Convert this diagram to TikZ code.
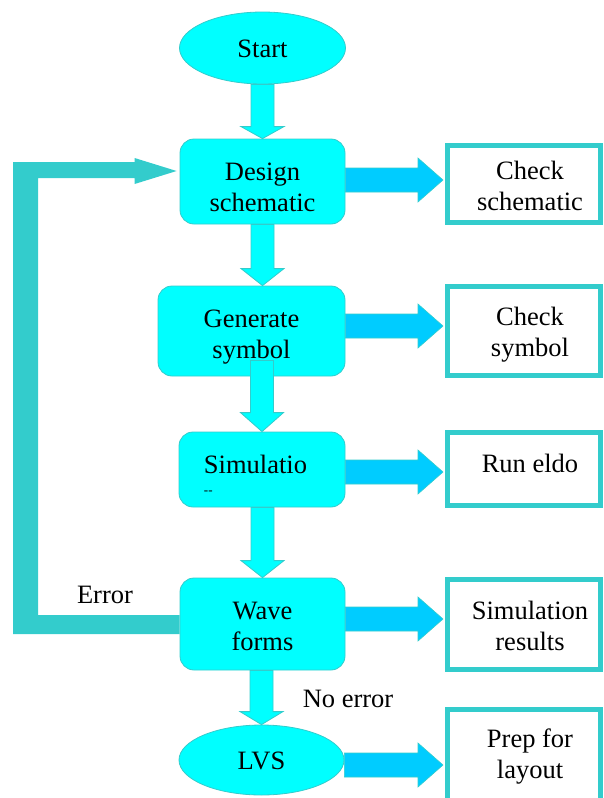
\documentclass[tikz,border=0pt]{standalone}
\usepackage{fontspec}
\setmainfont{Liberation Serif}
\usetikzlibrary{calc,shapes.geometric}
\definecolor{cyanfill}{RGB}{0,255,255}
\definecolor{tealline}{RGB}{51,204,204}
\definecolor{skyarrow}{RGB}{0,204,255}
\newcommand\boxtext[2]{\raisebox{#1}[\height][\depth]{\begin{tabular}{@{}c@{}}#2\end{tabular}}}
\newcommand\dblock[3]{\filldraw[darr] let \p1=(#1), \p2=(#2) in
  (\x2-11.5pt,\y1) -- (\x2-11.5pt,\y2+#3) -- (\x2-21.5pt,\y2+#3) -- (\x2,\y2) --
  (\x2+21.5pt,\y2+#3) -- (\x2+11.5pt,\y2+#3) -- (\x2+11.5pt,\y1) -- cycle;}
\newcommand\rblock[3]{\filldraw[rarr] let \p1=(#1), \p2=(#2), \p3=($(#1)+(0,#3)$) in
  (\x1,\y3+12pt) -- (\x2-27pt,\y3+12pt) -- (\x2-27pt,\y3+22pt) -- (\x2-2pt,\y3) --
  (\x2-27pt,\y3-22pt) -- (\x2-27pt,\y3-12pt) -- (\x1,\y3-12pt) -- cycle;}
\tikzset{
  txtfont/.style={font=\fontsize{26.5}{31}\selectfont},
  mainbox/.style={txtfont, draw=tealline, line width=0.8pt, fill=cyanfill,
    rounded corners=14pt, inner sep=0pt},
  oval/.style={txtfont, ellipse, draw=tealline, line width=0.8pt, fill=cyanfill, inner sep=0pt},
  outbox/.style={txtfont, draw=tealline, line width=5pt, fill=white, inner sep=0pt},
  darr/.style={fill=cyanfill, draw=tealline, line width=0.8pt},
  rarr/.style={fill=skyarrow, draw=tealline, line width=0.6pt},
  fb/.style={fill=tealline},
  lbl/.style={txtfont, inner sep=0pt, anchor=base}
}
\begin{document}
\begin{tikzpicture}[x=1pt,y=-1pt]
\useasboundingbox (0,0) rectangle (603,798);
\clip (0,0) rectangle (603,798);
% main flow
\node[oval, minimum width=166pt, minimum height=72pt] (start) at (262.5,48) {\boxtext{-2.8pt}{Start}};
\node[mainbox, minimum width=165pt, minimum height=85pt] (design) at (262.5,181.5) {\boxtext{-7.8pt}{Design\\schematic}};
\node[mainbox, minimum width=187pt, minimum height=90pt] (gen) at (251.5,331) {\boxtext{-5.3pt}{Generate\\symbol}};
\node[mainbox, minimum width=166pt, minimum height=75pt] (simul) at (262,469.5)
  {\raisebox{2.7pt}[\height][\depth]{\begin{tabular}{@{}l@{}}\makebox[0pt][l]{\raisebox{-21.5pt}[0pt][0pt]{\fontsize{13}{13}\selectfont -{}-}}Simulatio\end{tabular}}\hspace*{13pt}};
\node[mainbox, minimum width=165pt, minimum height=92pt] (wave) at (262.5,624) {\boxtext{-4.3pt}{Wave\\forms}};
\node[oval, minimum width=165pt, minimum height=70pt] (lvs) at (261.5,760) {\boxtext{-2.8pt}{LVS}};
% output boxes
\node[outbox, minimum width=153pt, minimum height=77pt] (chks) at (524,184) {\hspace*{12pt}\boxtext{-4.3pt}{Check\\schematic}};
\node[outbox, minimum width=153pt, minimum height=89pt] (chksym) at (524,331) {\hspace*{12pt}\boxtext{-3.3pt}{Check\\symbol}};
\node[outbox, minimum width=153pt, minimum height=73pt] (eldo) at (524,469) {\hspace*{12pt}\boxtext{3.2pt}{Run eldo}};
\node[outbox, minimum width=153pt, minimum height=90pt] (simres) at (524,624.5) {\hspace*{12pt}\boxtext{-3.8pt}{Simulation\\results}};
\node[outbox, minimum width=153pt, minimum height=108pt] (prep) at (524,763.5) {\hspace*{12pt}\boxtext{7.2pt}{Prep for\\layout}};
% down arrows
\dblock{start.south}{design.north}{12pt}
\dblock{design.south}{design.south |- gen.north}{17pt}
\dblock{$(design.south |- gen.south)+(0,-16)$}{simul.north}{19pt}
\dblock{simul.south}{wave.north}{17pt}
\dblock{wave.south}{lvs.north}{13pt}
% right arrows
\rblock{design.east}{chks.west}{-1.5}
\rblock{gen.east}{chksym.west}{-5}
\rblock{simul.east}{eldo.west}{2.5}
\rblock{wave.east}{simres.west}{-5}
\rblock{lvs.east}{prep.west}{5}
% feedback arrow
\fill[fb] let \p1=(wave.west), \p2=(design.west) in
  (\x1,\y1-10pt) -- (13pt,\y1-10pt) -- (13pt,\y2+19.5pt) -- (\x2-45pt,\y2+19.5pt) --
  (\x2-45pt,\y2+23.5pt) -- (\x2-3pt,\y2+10.5pt) -- (\x2-45pt,\y2-2.5pt) --
  (\x2-45pt,\y2+3.5pt) -- (38pt,\y2+3.5pt) -- (38pt,\y1+9pt) -- (\x1,\y1+9pt) -- cycle;
% labels
\node[lbl] (err) at (105,603) {Error};
\node[lbl] (noerr) at (348,707) {No error};
\end{tikzpicture}
\end{document}
